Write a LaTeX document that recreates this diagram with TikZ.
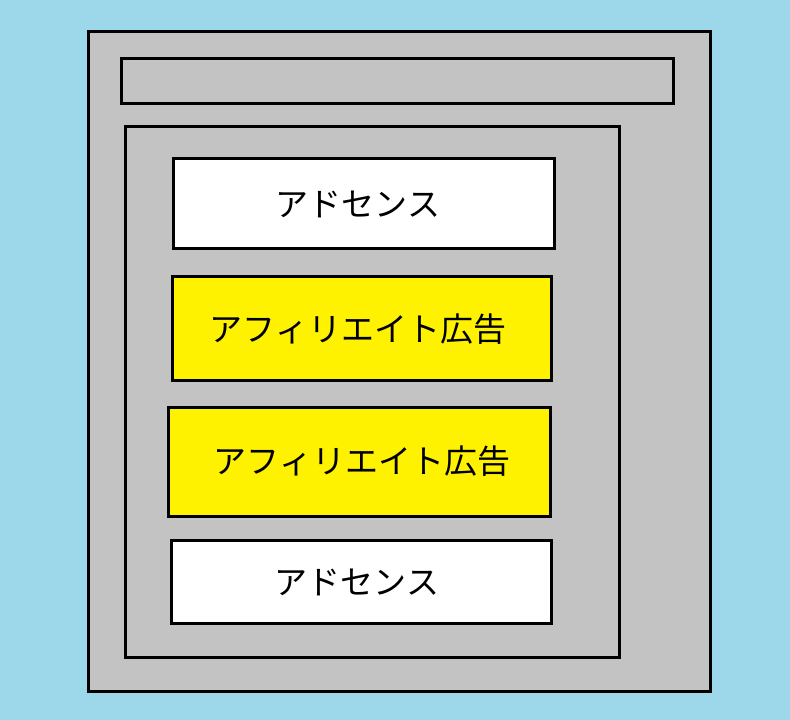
\documentclass[tikz,border=0pt]{standalone}
\usepackage{fontspec}
\newfontfamily\cjk{Noto Sans CJK JP}
\definecolor{bgblue}{HTML}{9DD8EA}
\definecolor{pgray}{HTML}{C3C3C3}
\definecolor{adyellow}{HTML}{FFF200}
\begin{document}
\begin{tikzpicture}[x=1pt,y=-1pt,
  frame/.style={draw=black,line width=3pt,fill=pgray},
  adbox/.style={draw=black,line width=3pt,fill=white},
  affbox/.style={draw=black,line width=3pt,fill=adyellow},
  lbl/.style={font=\cjk\fontsize{33}{37}\selectfont,anchor=center}]
\fill[bgblue] (0,0) rectangle (790,720);
\useasboundingbox (0,0) rectangle (790,720);
\draw[frame] (88,31) rectangle (710,691);
\draw[frame] (121,58) rectangle (673,103);
\draw[frame] (125,126) rectangle (619,657);
\draw[adbox] (173,158) rectangle (554,248);
\node[lbl] (a1) at (358,204) {アドセンス};
\draw[affbox] (172,276) rectangle (551,380);
\node[lbl] (f1) at (358,329) {アフィリエイト広告};
\draw[affbox] (168,407) rectangle (550,516);
\node[lbl] (f2) at (362,461) {アフィリエイト広告};
\draw[adbox] (171,540) rectangle (551,623);
\node[lbl] (a2) at (357,582) {アドセンス};
\end{tikzpicture}
\end{document}
